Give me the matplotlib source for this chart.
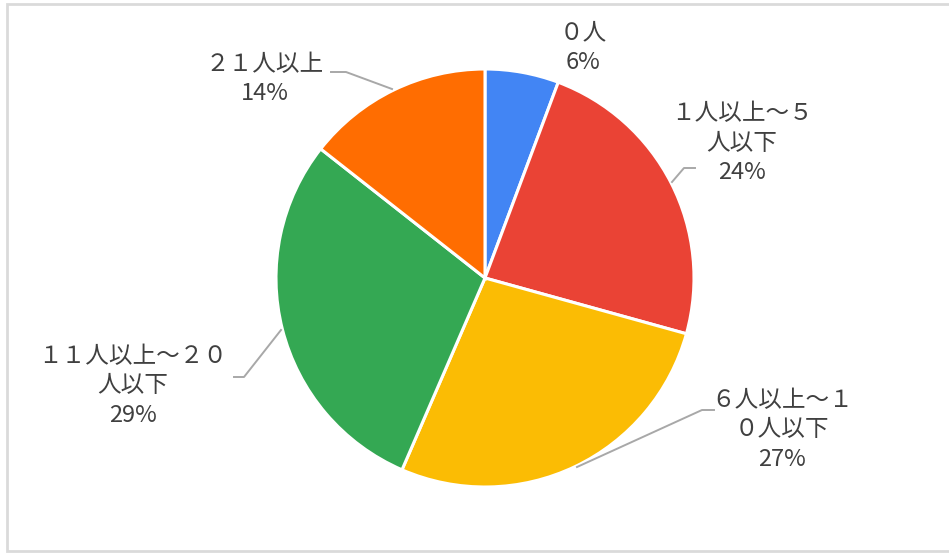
import matplotlib
matplotlib.use("Agg")
import matplotlib.pyplot as plt

plt.rcParams['font.family'] = ['Noto Sans CJK JP', 'DejaVu Sans']

categories = ["０人", "１人以上～５\n人以下", "６人以上～１\n０人以下", "１１人以上～２０\n人以下", "２１人以上"]
values = [5.7, 23.6, 27.2, 29.1, 14.4]
colors = ["#4285F4", "#EA4335", "#FBBC04", "#34A853", "#FF6D01"]

W, H = 949, 554
fig = plt.figure(figsize=(W / 100, H / 100), dpi=100)
ax = fig.add_axes([0, 0, 1, 1])

def fy(y):
    return H - y

cx, cy, r = 485, 278, 209
ax.pie(values, colors=colors, startangle=90, counterclock=False,
       center=(cx, fy(cy)), radius=r, frame=True,
       wedgeprops=dict(edgecolor='white', linewidth=2.2))
ax.set_xlim(0, W)
ax.set_ylim(0, H)
ax.set_aspect('auto')
ax.axis('off')

# border
ax.plot([W + 5, 7.5, 7.5, W + 5], [fy(3.5), fy(3.5), fy(551), fy(551)],
        color='#dadada', lw=2, solid_joinstyle='miter', clip_on=False)

txt_color = '#404040'
label_pos = [(583, 48), (742, 143), (782, 430), (133, 386), (265, 79)]
for cat, v, (x, y) in zip(categories, values, label_pos):
    ax.text(x, fy(y), f"{cat}\n{round(v)}%", ha='center', va='center',
            fontsize=17, color=txt_color, linespacing=1.36)

line_color = '#a8a8a8'
leaders = [
    [(672, 182), (684, 168), (695, 168)],
    [(577, 467), (702, 410), (714, 410)],
    [(281, 330), (244, 377), (234, 377)],
    [(392, 89), (346, 72), (331, 72)],
]
for pts in leaders:
    xs = [p[0] for p in pts]
    ys = [fy(p[1]) for p in pts]
    ax.plot(xs, ys, color=line_color, lw=1.4)

fig.savefig("out.png", dpi=100, facecolor='white')
